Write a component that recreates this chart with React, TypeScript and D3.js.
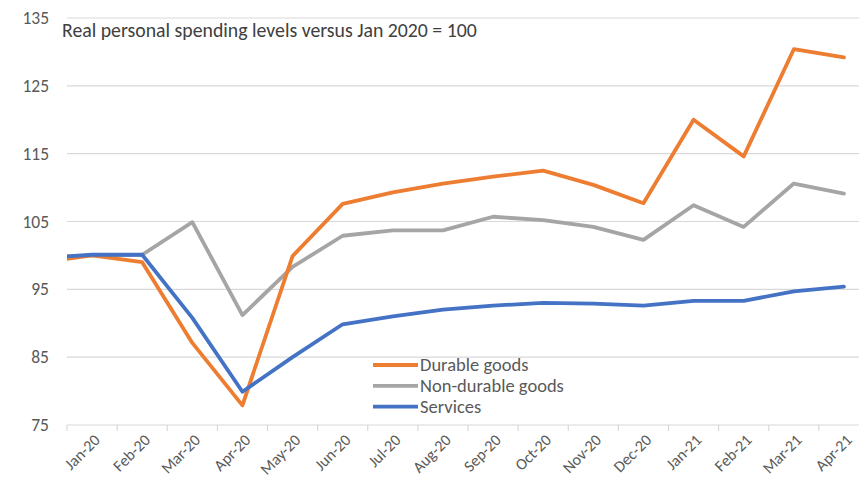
import React from "react";
import * as d3 from "d3";

const months = ["Jan-20","Feb-20","Mar-20","Apr-20","May-20","Jun-20","Jul-20","Aug-20","Sep-20","Oct-20","Nov-20","Dec-20","Jan-21","Feb-21","Mar-21","Apr-21"];
// value for Dec-19, drawn just before Jan-20 and clipped at the plot edge
const priorMonth = "Dec-19";
const durablePrior = 99.0;
const nonDurablePrior = 99.7;
const servicesPrior = 99.6;
const durable = [100, 99.0, 87.1, 77.9, 99.9, 107.6, 109.3, 110.6, 111.6, 112.5, 110.4, 107.7, 120.0, 114.6, 130.4, 129.2];
const nonDurable = [100, 100.1, 104.9, 91.2, 98.3, 102.9, 103.7, 103.7, 105.7, 105.2, 104.2, 102.3, 107.4, 104.2, 110.6, 109.1];
const services = [100.1, 100.1, 90.8, 79.9, 85.0, 89.85, 91.0, 92.0, 92.6, 93.0, 92.9, 92.6, 93.3, 93.3, 94.7, 95.4];
const yTicks = [75, 85, 95, 105, 115, 125, 135];
const seriesNames = ["Durable goods", "Non-durable goods", "Services"];
const seriesColors = ["#ED7D31", "#A5A5A5", "#4472C4"];
const title = "Real personal spending levels versus Jan 2020 = 100";

const W = 859, H = 488;
const FONT = "Carlito, Calibri, Lato, 'DejaVu Sans', sans-serif";

export default function App() {
  const left = 67, right = 869, top = 18, bottom = 425;
  const x = d3.scaleBand<string>().domain(months).range([left, right]).padding(0);
  const step = x.step();
  const cx = (m: string) => (x(m) as number) + x.bandwidth() / 2;
  const y = d3.scaleLinear().domain([75, 135]).range([bottom, top]);

  const series = [
    { name: seriesNames[0], color: seriesColors[0], prior: durablePrior, vals: durable },
    { name: seriesNames[1], color: seriesColors[1], prior: nonDurablePrior, vals: nonDurable },
    { name: seriesNames[2], color: seriesColors[2], prior: servicesPrior, vals: services },
  ];
  const line = d3.line<[number, number]>().x(d => d[0]).y(d => d[1]);
  const pathFor = (s: typeof series[0]) => {
    const pts: [number, number][] = [[cx(months[0]) - step, y(s.prior)]];
    s.vals.forEach((v, i) => pts.push([cx(months[i]), y(v)]));
    return line(pts) as string;
  };
  const drawOrder = [1, 0, 2];
  const tickXs = d3.range(months.length + 1).map(i => left + i * step);

  return (
    <svg width={W} height={H} style={{ position: "absolute", left: 0, top: 0, background: "#fff" }} fontFamily={FONT}>
      <defs>
        <clipPath id="plotclip">
          <rect x={left} y={0} width={right - left} height={H} />
        </clipPath>
      </defs>
      {yTicks.map(t => (
        <g key={t}>
          <line x1={left} x2={W} y1={y(t)} y2={y(t)} stroke="#D9D9D9" strokeWidth={1.2} />
          <text x={49} y={y(t)} dy="0.35em" textAnchor="end" fontSize={17.5} fill="#595959">{t}</text>
        </g>
      ))}
      {tickXs.map((tx, i) => (
        <line key={i} x1={tx} x2={tx} y1={bottom} y2={bottom + 6} stroke="#D9D9D9" strokeWidth={1.2} />
      ))}
      {months.map(m => (
        <text key={m} transform={`translate(${cx(m) + 5},${bottom + 12}) rotate(-45)`} textAnchor="end" dy="0.35em" fontSize={16} fill="#595959">{m}</text>
      ))}
      <g clipPath="url(#plotclip)">
        {drawOrder.map(i => (
          <path key={series[i].name} d={pathFor(series[i])} fill="none" stroke={series[i].color} strokeWidth={3.8} strokeLinejoin="round" strokeLinecap="round" />
        ))}
      </g>
      <text x={62} y={37} fontSize={19.8} fill="#404040">{title}</text>
      {series.map((s, i) => (
        <g key={s.name} transform={`translate(373,${365 + i * 20.8})`}>
          <line x1={0} x2={45} y1={0} y2={0} stroke={s.color} strokeWidth={3.8} />
          <text x={47} y={0} dy="0.35em" fontSize={18.5} fill="#595959">{s.name}</text>
        </g>
      ))}
    </svg>
  );
}
